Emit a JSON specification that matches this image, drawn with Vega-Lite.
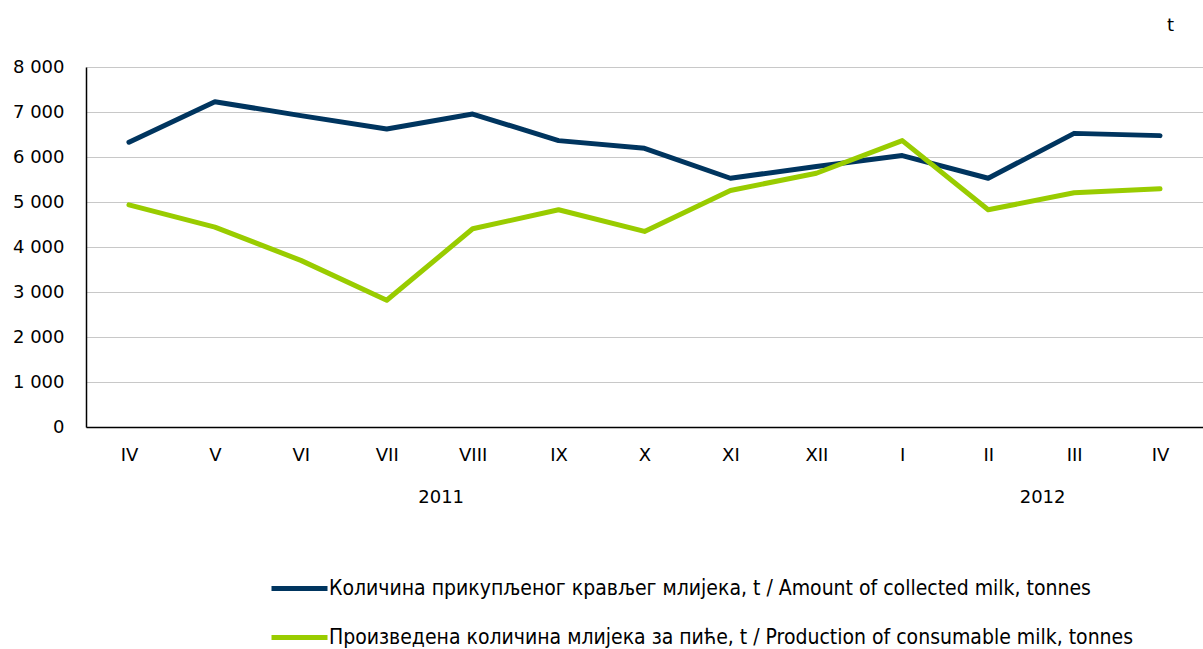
{
  "$schema": "https://vega.github.io/schema/vega-lite/v6.json",
  "width": 1117,
  "height": 360,
  "autosize": "none",
  "padding": {"left": 86, "top": 67, "right": 0, "bottom": 222},
  "background": "white",
  "config": {
    "view": {"stroke": null},
    "font": "DejaVu Sans"
  },
  "data": {
    "values": [
      {"key": "2011-IV", "series": "Количина прикупљеног крављег млијека, t / Amount of collected milk, tonnes", "value": 6330},
      {"key": "2011-V", "series": "Количина прикупљеног крављег млијека, t / Amount of collected milk, tonnes", "value": 7228},
      {"key": "2011-VI", "series": "Количина прикупљеног крављег млијека, t / Amount of collected milk, tonnes", "value": 6920},
      {"key": "2011-VII", "series": "Количина прикупљеног крављег млијека, t / Amount of collected milk, tonnes", "value": 6622},
      {"key": "2011-VIII", "series": "Количина прикупљеног крављег млијека, t / Amount of collected milk, tonnes", "value": 6955},
      {"key": "2011-IX", "series": "Количина прикупљеног крављег млијека, t / Amount of collected milk, tonnes", "value": 6364},
      {"key": "2011-X", "series": "Количина прикупљеног крављег млијека, t / Amount of collected milk, tonnes", "value": 6193},
      {"key": "2011-XI", "series": "Количина прикупљеног крављег млијека, t / Amount of collected milk, tonnes", "value": 5528},
      {"key": "2011-XII", "series": "Количина прикупљеног крављег млијека, t / Amount of collected milk, tonnes", "value": 5790},
      {"key": "2012-I", "series": "Количина прикупљеног крављег млијека, t / Amount of collected milk, tonnes", "value": 6031},
      {"key": "2012-II", "series": "Количина прикупљеног крављег млијека, t / Amount of collected milk, tonnes", "value": 5528},
      {"key": "2012-III", "series": "Количина прикупљеног крављег млијека, t / Amount of collected milk, tonnes", "value": 6525},
      {"key": "2012-IV", "series": "Количина прикупљеног крављег млијека, t / Amount of collected milk, tonnes", "value": 6475},
      {"key": "2011-IV", "series": "Произведена количина млијека за пиће, t / Production of consumable milk, tonnes", "value": 4937},
      {"key": "2011-V", "series": "Произведена количина млијека за пиће, t / Production of consumable milk, tonnes", "value": 4441},
      {"key": "2011-VI", "series": "Произведена количина млијека за пиће, t / Production of consumable milk, tonnes", "value": 3703},
      {"key": "2011-VII", "series": "Произведена количина млијека за пиће, t / Production of consumable milk, tonnes", "value": 2816},
      {"key": "2011-VIII", "series": "Произведена количина млијека за пиће, t / Production of consumable milk, tonnes", "value": 4405},
      {"key": "2011-IX", "series": "Произведена количина млијека за пиће, t / Production of consumable milk, tonnes", "value": 4827},
      {"key": "2011-X", "series": "Произведена количина млијека за пиће, t / Production of consumable milk, tonnes", "value": 4346},
      {"key": "2011-XI", "series": "Произведена количина млијека за пиће, t / Production of consumable milk, tonnes", "value": 5255},
      {"key": "2011-XII", "series": "Произведена количина млијека за пиће, t / Production of consumable milk, tonnes", "value": 5639},
      {"key": "2012-I", "series": "Произведена количина млијека за пиће, t / Production of consumable milk, tonnes", "value": 6364},
      {"key": "2012-II", "series": "Произведена количина млијека за пиће, t / Production of consumable milk, tonnes", "value": 4827},
      {"key": "2012-III", "series": "Произведена количина млијека за пиће, t / Production of consumable milk, tonnes", "value": 5204},
      {"key": "2012-IV", "series": "Произведена количина млијека за пиће, t / Production of consumable milk, tonnes", "value": 5293}
    ]
  },
  "encoding": {
    "x": {
      "field": "key",
      "type": "nominal",
      "sort": null,
      "scale": {"padding": 0.5}
    },
    "y": {
      "field": "value",
      "type": "quantitative",
      "scale": {"domain": [0, 8000], "nice": false},
      "axis": {
        "title": "t",
        "titleAngle": 0,
        "titleX": 1084,
        "titleY": -42,
        "titleAlign": "center",
        "titleBaseline": "middle",
        "titleFont": "DejaVu Sans",
        "titleFontSize": 18,
        "titleFontWeight": "normal",
        "titleColor": "#000000",
        "values": [0, 1000, 2000, 3000, 4000, 5000, 6000, 7000, 8000],
        "labelExpr": "replace(format(datum.value, ',d'), ',', ' ')",
        "labelFont": "DejaVu Sans",
        "labelFontSize": 18,
        "labelColor": "#000000",
        "labelPadding": 22,
        "ticks": false,
        "domain": true,
        "domainColor": "#000000",
        "domainWidth": 1.5,
        "grid": true,
        "gridColor": "#c8c8c8",
        "gridWidth": 1.2
      }
    },
    "color": {
      "field": "series",
      "type": "nominal",
      "scale": {
        "domain": [
          "Количина прикупљеног крављег млијека, t / Amount of collected milk, tonnes",
          "Произведена количина млијека за пиће, t / Production of consumable milk, tonnes"
        ],
        "range": ["#00355f", "#99cc00"]
      },
      "legend": {
        "title": null,
        "orient": "none",
        "legendX": 183,
        "legendY": 491,
        "direction": "vertical",
        "symbolType": "stroke",
        "symbolSize": 3136,
        "symbolStrokeWidth": 5,
        "rowPadding": 8,
        "labelOffset": -1,
        "labelFont": "DejaVu Sans Condensed, Liberation Sans",
        "labelFontSize": 21,
        "labelColor": "#000000",
        "labelLimit": 1000
      }
    }
  },
  "layer": [
    {
      "transform": [{"filter": "datum.series == 'Количина прикупљеног крављег млијека, t / Amount of collected milk, tonnes'"}],
      "mark": {"type": "line", "strokeWidth": 5, "strokeCap": "round", "strokeJoin": "round"},
      "encoding": {
        "x": {
          "field": "key",
          "type": "nominal",
          "sort": null,
          "scale": {"padding": 0.5},
          "axis": {
            "orient": "bottom",
            "title": null,
            "labelExpr": "split(datum.value, '-')[1]",
            "labelAngle": 0,
            "labelFont": "DejaVu Sans",
            "labelFontSize": 18,
            "labelColor": "#000000",
            "labelPadding": 19,
            "ticks": false,
            "domain": true,
            "domainColor": "#000000",
            "domainWidth": 1.5,
            "grid": false
          }
        }
      }
    },
    {
      "transform": [{"filter": "datum.series == 'Произведена количина млијека за пиће, t / Production of consumable milk, tonnes'"}],
      "mark": {"type": "line", "strokeWidth": 5, "strokeCap": "round", "strokeJoin": "round"},
      "encoding": {
        "x": {
          "field": "key",
          "type": "nominal",
          "sort": null,
          "scale": {"padding": 0.5},
          "axis": {
            "orient": "bottom",
            "title": null,
            "labelExpr": "datum.value == '2011-VIII' ? '2011' : (datum.value == '2012-III' ? '2012' : '')",
            "labelAngle": 0,
            "labelFont": "DejaVu Sans",
            "labelFontSize": 18,
            "labelColor": "#000000",
            "labelPadding": 61,
            "labelOffset": -32,
            "ticks": false,
            "domain": false,
            "grid": false
          }
        }
      }
    }
  ],
  "resolve": {"axis": {"x": "independent"}}
}
